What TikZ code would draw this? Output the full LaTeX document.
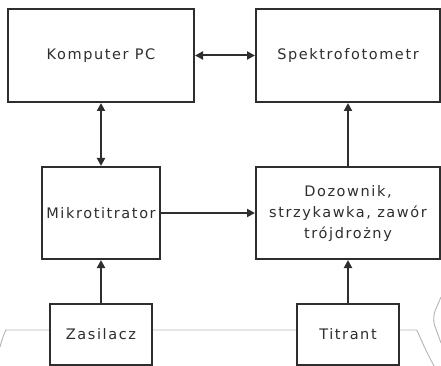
\documentclass[tikz,border=0pt]{standalone}
\usepackage{fontspec}
\setmainfont{DejaVu Sans}[LetterSpace=11]
\usetikzlibrary{arrows.meta}
\definecolor{boxline}{HTML}{2E2E2E}
\definecolor{deco}{HTML}{B4B4B4}
\tikzset{
  blk/.style={draw=boxline, line width=2pt, fill=white, inner sep=0pt, align=center,
    font=\fontsize{14.5}{21}\selectfont, text=boxline},
  conn/.style={draw=boxline, line width=2pt, -{Triangle[length=8pt,width=8pt]}},
  biconn/.style={draw=boxline, line width=2pt, {Triangle[length=8pt,width=8pt]}-{Triangle[length=8pt,width=8pt]}},
  decoline/.style={draw=deco, line width=0.9pt, rounded corners=8pt}
}
\begin{document}
\begin{tikzpicture}[x=1pt,y=-1pt]
\useasboundingbox (0,0) rectangle (441,366);
% background decoration
\draw[decoline] (0,347) .. controls (3,335) and (6,330) .. (14,330) -- (408,330) .. controls (418,330) and (420,340) .. (434,366);
\draw[decoline] (441,297) -- (432,318) -- (441,343);
% blocks
\node[blk, minimum width=186pt, minimum height=93pt] (pc) at (101,55.5) {Komputer PC};
\node[blk, minimum width=184pt, minimum height=93pt] (spek) at (348,55.5) {Spektrofotometr};
\node[blk, minimum width=118pt, minimum height=92pt] (mik) at (101,213) {Mikrotitrator};
\node[blk, minimum width=184pt, minimum height=92pt] (doz) at (348,213) {Dozownik,\\strzykawka, zawór\\trójdrożny};
\node[blk, minimum width=102pt, minimum height=61pt] (zas) at (101,334.5) {Zasilacz};
\node[blk, minimum width=102pt, minimum height=61pt] (tit) at (348,334.5) {Titrant};
% connectors
\draw[biconn] (pc.east) -- (spek.west);
\draw[biconn] (pc.south) -- (mik.north);
\draw[conn] (mik.east) -- (doz.west);
\draw[conn] (doz.north) -- (spek.south);
\draw[conn] (zas.north) -- (mik.south);
\draw[conn] (tit.north) -- (doz.south);
\end{tikzpicture}
\end{document}
